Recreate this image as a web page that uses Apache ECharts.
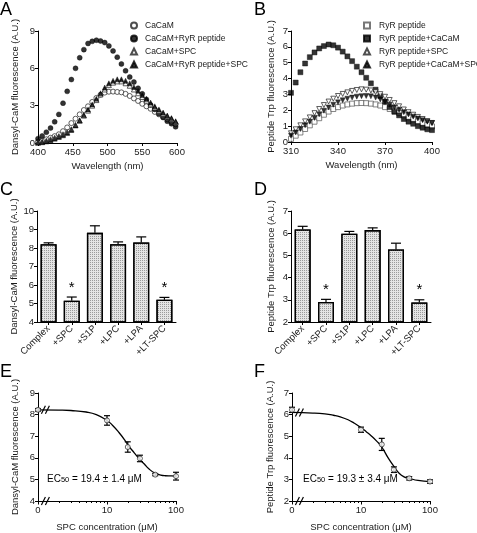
<!DOCTYPE html>
<html><head><meta charset="utf-8">
<script src="https://cdn.jsdelivr.net/npm/echarts@6/dist/echarts.min.js"></script>
<style>html,body{margin:0;padding:0;background:#fff}#c{width:477px;height:533px}</style>
</head><body><div id="c"></div>
<script>
// ---------- Panel A data ----------
const wlA=[400,406,412,418,424,430,436,442,448,454,460,466,472,478,484,490,496,502,508,514,520,526,532,538,544,550,556,562,568,574,580,586,592,598];
const cacam=[0.1,0.18,0.3,0.42,0.55,0.7,0.95,1.25,1.6,1.95,2.3,2.65,2.95,3.3,3.62,3.88,4.05,4.12,4.13,4.1,4.07,3.95,3.78,3.58,3.38,3.15,2.95,2.75,2.5,2.3,2.1,1.9,1.7,1.5];
const cacamRyr=[0.35,0.57,0.87,1.2,1.7,2.3,3.2,4.15,5.1,6.0,6.85,7.5,8.0,8.17,8.26,8.2,8.07,7.8,7.4,6.9,6.35,5.8,5.3,4.9,4.4,3.95,3.5,3.05,2.7,2.35,2.05,1.75,1.55,1.3];
const cacamSpc=[0.05,0.1,0.18,0.3,0.42,0.55,0.7,0.88,1.1,1.45,1.8,2.2,2.6,3.0,3.45,3.9,4.3,4.65,4.85,4.95,4.95,4.8,4.6,4.3,4.0,3.7,3.4,3.1,2.85,2.6,2.35,2.15,1.95,1.7];
const cacamRyrSpc=[0.02,0.06,0.12,0.22,0.35,0.48,0.62,0.8,1.05,1.4,1.8,2.25,2.7,3.1,3.55,4.0,4.45,4.8,5.0,5.12,5.12,5.0,4.8,4.5,4.2,3.85,3.55,3.25,2.95,2.7,2.45,2.2,2.0,1.75];
const namesA=['CaCaM','CaCaM+RyR peptide','CaCaM+SPC','CaCaM+RyR peptide+SPC'];
// ---------- Panel B data ----------
const wlB=[310,313,316,319,322,325,328,331,334,337,340,343,346,349,352,355,358,361,364,367,370,373,376,379,382,385,388,391,394,397,400];
const ryr=[0.2,0.4,0.6,0.82,1.05,1.28,1.5,1.72,1.92,2.08,2.2,2.3,2.37,2.42,2.45,2.46,2.45,2.42,2.37,2.3,2.2,2.08,1.95,1.82,1.68,1.55,1.42,1.3,1.18,1.08,0.98];
const ryrCacam=[3.1,3.75,4.4,4.95,5.35,5.65,5.9,6.05,6.15,6.1,5.95,5.7,5.4,5.1,4.75,4.4,4.05,3.7,3.3,2.9,2.55,2.2,1.9,1.68,1.45,1.28,1.15,1.0,0.9,0.8,0.75];
const ryrSpc=[0.55,0.8,1.05,1.3,1.55,1.82,2.08,2.33,2.55,2.73,2.9,3.03,3.13,3.22,3.28,3.32,3.3,3.25,3.15,3.02,2.85,2.65,2.45,2.25,2.05,1.88,1.72,1.58,1.45,1.32,1.2];
const ryrCacamSpc=[0.4,0.6,0.82,1.05,1.28,1.52,1.75,1.97,2.18,2.35,2.5,2.63,2.73,2.8,2.86,2.89,2.9,2.88,2.8,2.68,2.52,2.35,2.18,2.02,1.88,1.74,1.6,1.48,1.37,1.28,1.2];
const namesB=['RyR peptide','RyR peptide+CaCaM','RyR peptide+SPC','RyR peptide+CaCaM+SPC'];
const xTicksB=[310,340,370,400];
// ---------- Panels C / D data ----------
const catsCD=['Complex','+SPC','+S1P','+LPC','+LPA','+LT-SPC'];
const meanC=[8.2,5.15,8.82,8.2,8.3,5.2];
const errC=[0.08,0.2,0.38,0.13,0.3,0.13];
const meanD=[6.17,2.9,5.98,6.14,5.27,2.88];
const errD=[0.14,0.12,0.1,0.1,0.28,0.12];
const sigCD=[0,1,0,0,0,1];
// ---------- Panels E / F data ----------
const concEF=[0,10,20,30,50,100];
const meanE=[8.22,7.73,6.5,5.97,5.22,5.15];
const errE=[0.06,0.22,0.24,0.15,0.05,0.18];
const meanF=[6.22,5.3,4.62,3.45,3.05,2.9];
const errF=[0.12,0.12,0.28,0.13,0.08,0.08];
const fitConcE=[1,2,3,5,7,10,12,15,18,20,25,30,35,40,50,60,70,85,100];
const fitE=[8.22,8.21,8.19,8.12,8.0,7.73,7.51,7.16,6.83,6.6,6.22,5.92,5.7,5.5,5.28,5.2,5.17,5.16,5.15];
const fitConcF=[1,2,3,4,5,6.5,8,10,12,14,17,20,25,30,36,42,50,67,100];
const fitF=[6.1,6.07,6.03,5.97,5.9,5.76,5.6,5.4,5.2,5.02,4.76,4.5,3.97,3.6,3.27,3.12,3.05,2.95,2.9];
const minorTicksEF=[2,3,4,5,6,7,8,9,20,30,40,50,60,70,80,90];
const ec50E='19.4 ± 1.4 μM', ec50F='19.3 ± 3.4 μM';

const FONT="'Liberation Sans',Arial,sans-serif";
const TXT='#1a1a1a';
const FS=9.5;
const chart=echarts.init(document.getElementById('c'),null,{renderer:'canvas'});
const zip=(a,b)=>a.map((v,i)=>[v,b[i]]);
const plotConc=c=>c===0?1:c;

function yAx(g,min,max,interval,name,gap){
  return {type:'value',gridIndex:g,min,max,interval,name,nameLocation:'middle',nameGap:gap,
    nameTextStyle:{fontFamily:FONT,fontSize:FS,color:TXT},
    axisLine:{show:true,lineStyle:{color:'#000',width:1}},
    axisTick:{show:true,length:3,lineStyle:{color:'#000'}},
    axisLabel:{fontFamily:FONT,fontSize:FS,color:TXT,margin:3},splitLine:{show:false}};
}
function xVal(g,min,max,interval,name,gap,extra){
  return Object.assign({type:'value',gridIndex:g,min,max,interval,name,nameLocation:'middle',nameGap:gap,
    nameTextStyle:{fontFamily:FONT,fontSize:FS,color:TXT},
    axisLine:{show:true,onZero:false,lineStyle:{color:'#000',width:1}},
    axisTick:{show:true,length:3,lineStyle:{color:'#000'}},
    axisLabel:{fontFamily:FONT,fontSize:FS,color:TXT,margin:4},splitLine:{show:false}},extra||{});
}
function xCat(g){
  return {type:'category',gridIndex:g,data:catsCD,
    axisLine:{show:true,lineStyle:{color:'#000',width:1}},
    axisTick:{show:true,alignWithLabel:true,length:3,lineStyle:{color:'#000'}},
    axisLabel:{fontFamily:FONT,fontSize:9.5,color:TXT,rotate:45,margin:5,interval:0}};
}
function xLog(g,name){
  return {type:'log',logBase:10,gridIndex:g,min:1,max:100,name,nameLocation:'middle',nameGap:21,
    nameTextStyle:{fontFamily:FONT,fontSize:FS,color:TXT},
    axisLine:{show:true,onZero:false,lineStyle:{color:'#000',width:1}},
    axisTick:{show:true,length:3.5,lineStyle:{color:'#000'}},
    axisLabel:{fontFamily:FONT,fontSize:FS,color:TXT,margin:4,formatter:v=>Math.abs(v-1)<1e-6?'0':String(Math.round(v))},
    splitLine:{show:false}};
}
function xLogMinor(g){
  return {type:'log',logBase:10,gridIndex:g,min:1,max:100,position:'bottom',
    axisLine:{show:false},axisLabel:{show:false},splitLine:{show:false},
    axisTick:{show:true,length:2,customValues:minorTicksEF,lineStyle:{color:'#000'}}};
}
const openStyle={color:'#fff',borderColor:'#222',borderWidth:0.9};
const fillStyle={color:'#000',borderColor:'#000',borderWidth:0.5};
function sc(name,xi,data,symbol,filled,rot){
  return {type:'scatter',name,xAxisIndex:xi,yAxisIndex:xi,data,symbol,symbolSize:5,symbolRotate:rot||0,
    itemStyle:filled?fillStyle:openStyle,emphasis:{disabled:true}};
}
function errRender(both,sig,capW){
  return function(params,api){
    const x=api.value(0),m=api.value(1),e=api.value(2);
    const top=api.coord([x,m+e]);const base=api.coord([x,both?m-e:m]);
    const st={stroke:'#000',lineWidth:1.2};
    const ch=[{type:'line',shape:{x1:top[0],y1:top[1],x2:base[0],y2:base[1]},style:st},
      {type:'line',shape:{x1:top[0]-capW/2,y1:top[1],x2:top[0]+capW/2,y2:top[1]},style:st}];
    if(both) ch.push({type:'line',shape:{x1:base[0]-capW/2,y1:base[1],x2:base[0]+capW/2,y2:base[1]},style:st});
    if(sig&&sig[params.dataIndex]) ch.push({type:'text',style:{text:'*',x:top[0],y:top[1]-2,align:'center',verticalAlign:'bottom',fontSize:15,fontFamily:FONT,fill:'#000'}});
    return {type:'group',children:ch};
  };
}
const catIdx=catsCD.map((c,i)=>i);
const legText={fontFamily:FONT,fontSize:8.5,color:TXT,padding:[0,0,0,3]};
const barStyle={color:'#e4e4e4',borderColor:'#000',borderWidth:1.3,
  decal:{symbol:'rect',symbolSize:1,dashArrayX:[1,1],dashArrayY:[1,1],color:'#9a9a9a'}};

const option={
  animation:false,
  textStyle:{fontFamily:FONT},
  grid:[
    {left:38,top:31,width:139,height:112},
    {left:291,top:31,width:141,height:111},
    {left:37,top:211,width:139,height:111},
    {left:291,top:211,width:140,height:111},
    {left:38,top:393,width:138,height:111},
    {left:292,top:393,width:138,height:111}
  ],
  legend:[
    {data:namesA,orient:'vertical',left:130,top:21,itemWidth:6,itemHeight:6,itemGap:4,padding:0,textStyle:legText},
    {data:namesB,orient:'vertical',left:363,top:21,itemWidth:6,itemHeight:6,itemGap:4,padding:0,textStyle:Object.assign({},legText,{padding:[0,0,0,4]})}
  ],
  xAxis:[
    xVal(0,400,600,50,'Wavelength (nm)',18),
    xVal(1,310,400,null,'Wavelength (nm)',18,{axisTick:{show:true,length:3,customValues:xTicksB,lineStyle:{color:'#000'}},
      axisLabel:{fontFamily:FONT,fontSize:FS,color:TXT,margin:4,customValues:xTicksB}}),
    xCat(2),xCat(3),
    xLog(4,'SPC concentration (μM)'),xLog(5,'SPC concentration (μM)'),
    xLogMinor(4),xLogMinor(5)
  ],
  yAxis:[
    yAx(0,0,9,3,'Dansyl-CaM fluorescence (A.U.)',18),
    yAx(1,0,7,1,'Peptide Trp fluorescence (A.U.)',15),
    yAx(2,4,10,1,'Dansyl-CaM fluorescence (A.U.)',17),
    yAx(3,2,7,1,'Peptide Trp fluorescence (A.U.)',15),
    yAx(4,4,9,1,'Dansyl-CaM fluorescence (A.U.)',18),
    yAx(5,2,7,1,'Peptide Trp fluorescence (A.U.)',17)
  ],
  series:[
    sc(namesA[0],0,zip(wlA,cacam),'circle',false),
    sc(namesA[1],0,zip(wlA,cacamRyr),'circle',true),
    sc(namesA[2],0,zip(wlA,cacamSpc),'triangle',false),
    sc(namesA[3],0,zip(wlA,cacamRyrSpc),'triangle',true),
    Object.assign(sc(namesB[0],1,zip(wlB,ryr),'rect',false),{itemStyle:{color:'#fff',borderColor:'#555',borderWidth:0.9}}),
    sc(namesB[1],1,zip(wlB,ryrCacam),'rect',true),
    sc(namesB[2],1,zip(wlB,ryrSpc),'triangle',false,180),
    sc(namesB[3],1,zip(wlB,ryrCacamSpc),'triangle',true,180),
    {type:'bar',xAxisIndex:2,yAxisIndex:2,data:meanC,barWidth:16,itemStyle:barStyle,emphasis:{disabled:true}},
    {type:'custom',xAxisIndex:2,yAxisIndex:2,data:catIdx.map(i=>[i,meanC[i],errC[i]]),renderItem:errRender(false,sigCD,10),z:5},
    {type:'bar',xAxisIndex:3,yAxisIndex:3,data:meanD,barWidth:16,itemStyle:barStyle,emphasis:{disabled:true}},
    {type:'custom',xAxisIndex:3,yAxisIndex:3,data:catIdx.map(i=>[i,meanD[i],errD[i]]),renderItem:errRender(false,sigCD,10),z:5},
    {type:'line',xAxisIndex:4,yAxisIndex:4,data:zip(fitConcE,fitE),smooth:true,symbol:'none',lineStyle:{color:'#000',width:1.3},emphasis:{disabled:true}},
    {type:'custom',xAxisIndex:4,yAxisIndex:4,data:concEF.map((c,i)=>[plotConc(c),meanE[i],errE[i]]),renderItem:errRender(true,null,6),z:4},
    {type:'scatter',xAxisIndex:4,yAxisIndex:4,data:concEF.map((c,i)=>[plotConc(c),meanE[i]]),symbol:'circle',symbolSize:5,itemStyle:openStyle,z:6},
    {type:'line',xAxisIndex:5,yAxisIndex:5,data:zip(fitConcF,fitF),smooth:true,symbol:'none',lineStyle:{color:'#000',width:1.3},emphasis:{disabled:true}},
    {type:'custom',xAxisIndex:5,yAxisIndex:5,data:concEF.map((c,i)=>[plotConc(c),meanF[i],errF[i]]),renderItem:errRender(true,null,6),z:4},
    {type:'scatter',xAxisIndex:5,yAxisIndex:5,data:concEF.map((c,i)=>[plotConc(c),meanF[i]]),symbol:'circle',symbolSize:5,itemStyle:openStyle,z:6}
  ]
};
chart.setOption(option);

// ----- decorations: panel letters, EC50 labels, axis-break marks -----
const g=[];
const letter=(t,x,y)=>g.push({type:'text',left:x,top:y,style:{text:t,fontSize:18,fontFamily:FONT,fill:'#000'}});
letter('A',0,1);letter('B',254,1);letter('C',0,181);letter('D',254,181);letter('E',0,363);letter('F',254,363);
const ecText=(val,x,y)=>g.push({type:'text',left:x,top:y,style:{text:'{a|EC}{s|50}{a| = '+val+'}',
  rich:{a:{fontSize:10,fontFamily:FONT,fill:'#000',verticalAlign:'bottom',lineHeight:14},
        s:{fontSize:7.5,fontFamily:FONT,fill:'#000',verticalAlign:'bottom',lineHeight:11}}}});
ecText(ec50E,47,474);ecText(ec50F,303,474);
function brk(ai,xv,yv){
  const p=chart.convertToPixel({xAxisIndex:ai,yAxisIndex:ai},[xv,yv]);
  [-2,2].forEach(dx=>g.push({type:'line',shape:{x1:p[0]+dx-2,y1:p[1]+4,x2:p[0]+dx+2,y2:p[1]-4},style:{stroke:'#000',lineWidth:1.2},z:100}));
}
brk(4,1.28,4);brk(4,1.28,fitE[0]);brk(5,1.28,2);brk(5,1.28,fitF[0]);
chart.setOption({graphic:g});
</script></body></html>
